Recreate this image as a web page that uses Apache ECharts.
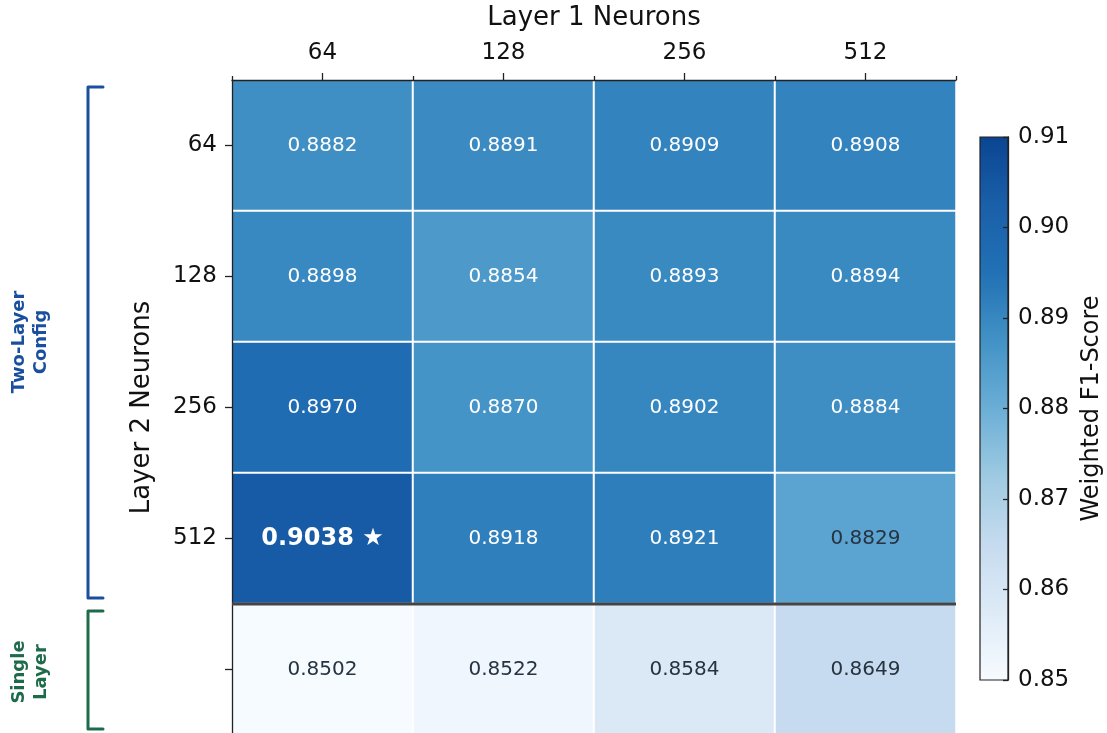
<!DOCTYPE html>
<html>
<head>
<meta charset="utf-8">
<script src="https://cdn.jsdelivr.net/npm/echarts@6/dist/echarts.min.js"></script>
<style>
  html, body { margin: 0; padding: 0; background: #fff; overflow: hidden; }
  #heatmap_f1 { width: 1107px; height: 740px; }
</style>
</head>
<body>
<div id="heatmap_f1"></div>
<script>
// data
var layer1 = ['64', '128', '256', '512'];
var layer2 = ['64', '128', '256', '512', ''];   // last row = single layer
var row64  = [0.8882, 0.8891, 0.8909, 0.8908];
var row128 = [0.8898, 0.8854, 0.8893, 0.8894];
var row256 = [0.8970, 0.8870, 0.8902, 0.8884];
var row512 = [0.9038, 0.8918, 0.8921, 0.8829];
var single = [0.8502, 0.8522, 0.8584, 0.8649];
var cbarTicks = [0.85, 0.86, 0.87, 0.88, 0.89, 0.90, 0.91];

var blues = ['#f7fbff', '#deebf7', '#c6dbef', '#9ecae1', '#6baed6', '#4292c6', '#2171b5', '#1a5fa9', '#0a4590'];
var font = 'DejaVu Sans';

var rows = [row64, row128, row256, row512, single];
var best = 0;
rows.forEach(function (r) { r.forEach(function (v) { if (v > best) best = v; }); });

var cells = [];
rows.forEach(function (r, yi) {
    r.forEach(function (v, xi) {
        var item = {
            value: [xi, yi, v],
            label: { color: v > 0.884 ? '#ffffff' : '#263340' }
        };
        if (v === best) {
            item.label.fontWeight = 'bold';
            item.label.fontSize = 24;
            item.label.formatter = v.toFixed(4) + ' \u2605';
        }
        cells.push(item);
    });
});

var tickLine = { color: '#222', width: 1.3 };

var chart = echarts.init(document.getElementById('heatmap_f1'));
var option = {
    animation: false,
    textStyle: { fontFamily: font },
    grid: [
        { left: 232, top: 80, width: 724, height: 655 },
        { left: 980, top: 137, width: 28, height: 543 }
    ],
    xAxis: [
        {
            type: 'category', data: layer1, position: 'top', gridIndex: 0, z: 5,
            name: 'Layer 1 Neurons', nameLocation: 'middle', nameGap: 49,
            nameTextStyle: { fontSize: 26, color: '#111', fontFamily: font },
            axisLine: { show: true, lineStyle: tickLine },
            axisTick: { show: true, alignWithLabel: true, length: 7, lineStyle: tickLine },
            axisLabel: { fontSize: 23, color: '#111', margin: 15, fontFamily: font },
            splitLine: { show: false }
        },
        {
            type: 'category', data: layer1, position: 'top', gridIndex: 0, z: 5,
            axisLine: { show: false },
            axisTick: { show: true, length: 4, lineStyle: tickLine },
            axisLabel: { show: false },
            splitLine: { show: false }
        },
        { type: 'value', gridIndex: 1, show: false, min: 0, max: 1 }
    ],
    yAxis: [
        {
            type: 'category', data: layer2, inverse: true, gridIndex: 0, z: 5,
            name: 'Layer 2 Neurons', nameLocation: 'middle', nameGap: 77, nameRotate: 90,
            nameTextStyle: { fontSize: 26, color: '#111', fontFamily: font },
            axisLine: { show: true, lineStyle: tickLine },
            axisTick: { show: true, alignWithLabel: true, length: 7, lineStyle: tickLine },
            axisLabel: { fontSize: 23, color: '#111', margin: 15, fontFamily: font },
            splitLine: { show: false }
        },
        {
            type: 'value', gridIndex: 1, position: 'right', z: 8,
            min: cbarTicks[0], max: cbarTicks[cbarTicks.length - 1], interval: 0.01,
            name: 'Weighted F1-Score', nameLocation: 'middle', nameGap: 72, nameRotate: 90,
            nameTextStyle: { fontSize: 24, color: '#111', fontFamily: font },
            axisLine: { show: true, onZero: false, lineStyle: tickLine },
            axisTick: { show: true, inside: true, length: 5, lineStyle: tickLine },
            axisLabel: { fontSize: 23, color: '#111', margin: 10, fontFamily: font,
                formatter: function (v) { return v.toFixed(2); } },
            splitLine: { show: false }
        }
    ],
    visualMap: {
        show: false, seriesIndex: 0, dimension: 2,
        min: cbarTicks[0], max: cbarTicks[cbarTicks.length - 1],
        inRange: { color: blues }
    },
    series: [
        {
            type: 'heatmap', xAxisIndex: 0, yAxisIndex: 0,
            data: cells,
            itemStyle: { borderColor: '#ffffff', borderWidth: 2 },
            label: {
                show: true, fontSize: 20, fontFamily: font,
                formatter: function (p) { return p.value[2].toFixed(4); }
            }
        }
    ]
};
chart.setOption(option);

// colorbar gradient, separator line, group brackets
var cb = chart.convertToPixel({ gridIndex: 1 }, [0, cbarTicks[cbarTicks.length - 1]]);
var cb0 = chart.convertToPixel({ gridIndex: 1 }, [1, cbarTicks[0]]);
var stops = blues.map(function (c, i) { return { offset: 1 - i / (blues.length - 1), color: c }; }).reverse();

var px0 = chart.convertToPixel({ xAxisIndex: 0 }, 0);
var px3 = chart.convertToPixel({ xAxisIndex: 0 }, 3);
var band = (px3 - px0) / 3;
var sepY = (chart.convertToPixel({ yAxisIndex: 0 }, 3) + chart.convertToPixel({ yAxisIndex: 0 }, 4)) / 2;

chart.setOption({
    graphic: [
        {
            type: 'rect', z: 5,
            shape: { x: cb[0], y: cb[1], width: cb0[0] - cb[0], height: cb0[1] - cb[1] },
            style: {
                fill: new echarts.graphic.LinearGradient(0, 0, 0, 1, stops),
                stroke: '#222', lineWidth: 1.2
            }
        },
        {
            type: 'line', z: 10,
            shape: { x1: px0 - band / 2, y1: sepY, x2: px3 + band / 2, y2: sepY },
            style: { stroke: '#444', lineWidth: 3 }
        },
        {
            type: 'polyline', z: 10,
            shape: { points: [[103, 87], [88, 87], [88, 598], [103, 598]] },
            style: { stroke: '#1a4f9e', lineWidth: 3, fill: null, lineJoin: 'round', lineCap: 'round' }
        },
        {
            type: 'polyline', z: 10,
            shape: { points: [[103, 611], [88, 611], [88, 729], [103, 729]] },
            style: { stroke: '#1e6b4b', lineWidth: 3, fill: null, lineJoin: 'round', lineCap: 'round' }
        },
        {
            type: 'text', x: 30, y: 342, rotation: Math.PI / 2, z: 10,
            style: {
                text: 'Two-Layer\nConfig', fill: '#1a4f9e', font: 'bold 18px "DejaVu Sans"',
                align: 'center', verticalAlign: 'middle', lineHeight: 22
            }
        },
        {
            type: 'text', x: 30, y: 672, rotation: Math.PI / 2, z: 10,
            style: {
                text: 'Single\nLayer', fill: '#1e6b4b', font: 'bold 18px "DejaVu Sans"',
                align: 'center', verticalAlign: 'middle', lineHeight: 22
            }
        }
    ]
});

window.onresize = chart.resize;
</script>
</body>
</html>
